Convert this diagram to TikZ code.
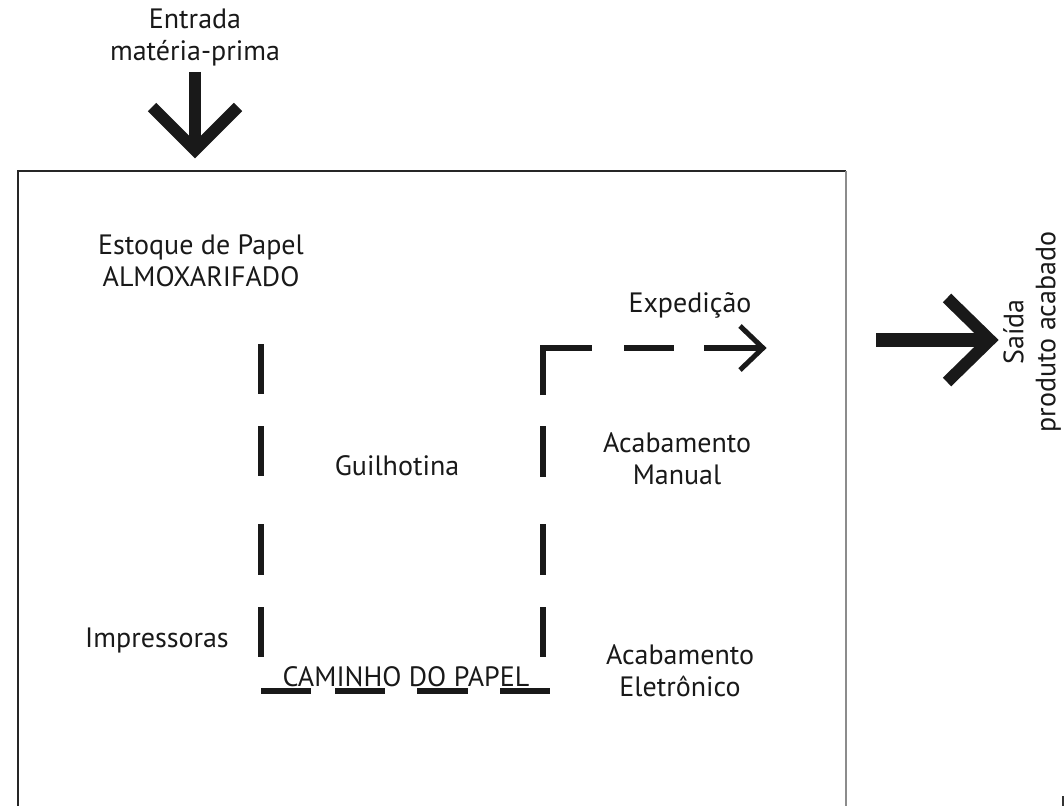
\documentclass[tikz,border=0pt]{standalone}
\usepackage{fontspec}
\setmainfont{PT Sans}
\begin{document}
\begin{tikzpicture}[x=1pt,y=-1pt,
  lbl/.style={font=\fontsize{28}{32}\selectfont, align=center, inner sep=0pt, text=black!90},
  bigarrow/.style={line width=12pt, miter limit=10, line join=miter, black!90},
  pathdash/.style={line width=6.5pt, black!90},
  pathline/.style={line width=6pt, black!90, line join=miter}]
\useasboundingbox (0,0) rectangle (1064,805);
% frame
\coordinate (fbl) at (18,810);
\coordinate (ftl) at (18,171);
\coordinate (ftr) at (846,171);
\coordinate (fbr) at (846,810);
\draw[line width=1.6pt, black!85] (fbl) -- (ftl) -- (ftr);
\draw[line width=2pt, black!45] (ftr) -- (fbr);
\coordinate (m1) at (1063,796);
\coordinate (m2) at (1063,810);
\draw[line width=1.2pt, black!80] (m1) -- (m2);

% labels
\node[lbl] (entrada) at (195,38) {Entrada\\matéria-prima};
\node[lbl] (estoque) at (201,261) {Estoque de Papel\\ALMOXARIFADO};
\node[lbl] (exped) at (690,305) {Expedição};
\node[lbl] (acman) at (677,459) {Acabamento\\Manual};
\node[lbl] (guil) at (397,466) {Guilhotina};
\node[lbl] (impr) at (157,640) {Impressoras};
\node[lbl] (acele) at (680,671) {Acabamento\\Eletrônico};
\node[lbl] (caminho) at (406,677) {CAMINHO DO PAPEL};
\node[lbl, rotate=90] (saida) at (1032,332) {Saída\\produto acabado};

% entrada arrow
\coordinate (ea0) at (195,72);
\coordinate (ea1) at (195,150);
\coordinate (eal) at (152,107);
\coordinate (ear) at (238,107);
\draw[bigarrow] (ea0) -- (ea1);
\draw[bigarrow] (eal) -- (ea1) -- (ear);

% saida arrow
\coordinate (sa0) at (876,340);
\coordinate (sa1) at (990,340);
\coordinate (sau) at (947,298);
\coordinate (sad) at (947,382);
\draw[bigarrow, line width=14pt] (sa0) -- (sa1);
\draw[bigarrow] (sau) -- (sa1) -- (sad);

% paper path: left vertical
\foreach \a/\b in {344/394,426/476,524/575,607/657}{
  \draw[pathdash] (261,\a) -- (261,\b);
}
% right vertical
\foreach \a/\b in {426/477,524/575,607/657}{
  \draw[pathdash] (543,\a) -- (543,\b);
}
% bottom horizontal
\foreach \a/\b in {261/311,335/385,417/468,500/550}{
  \draw[pathline] (\a,691) -- (\b,691);
}
% corner and top horizontal to expedicao
\coordinate (c0) at (543,395);
\coordinate (c1) at (543,348);
\coordinate (c2) at (592,348);
\draw[pathline] (c0) -- (c1) -- (c2);
\draw[pathline] (624,348) -- (674,348);
\coordinate (t0) at (704,348);
\coordinate (t1) at (763,348);
\coordinate (tu) at (740,326);
\coordinate (td) at (740,370);
\draw[pathline] (t0) -- (t1);
\draw[pathline, line width=5pt] (tu) -- (t1) -- (td);
\end{tikzpicture}
\end{document}
